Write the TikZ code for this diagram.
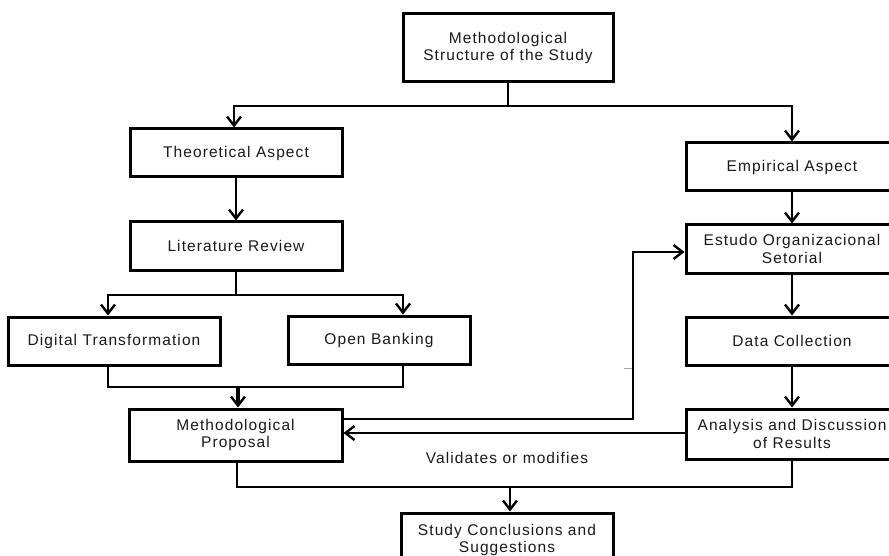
\documentclass[tikz,border=0pt]{standalone}
\usepackage{fontspec}
\setmainfont[LetterSpace=7]{Liberation Sans}
\usetikzlibrary{arrows.meta}
\begin{document}
\begin{tikzpicture}[x=1pt,y=-1pt,
  box/.style={draw=black,line width=3pt,minimum width=#1,inner sep=0pt,align=center,font=\fontsize{15.5}{17.5}\selectfont,text=black!90},
  box/.default=212,
  conn/.style={draw=black,line width=2.6pt},
  arr/.style={conn,-{Straight Barb[length=9,width=14,line width=2.4pt]}}]
\useasboundingbox (0,0) rectangle (889,556);
% nodes
\node[box=210,minimum height=68] (top) at (508,48) {Methodological\\Structure of the Study};
\node[box,minimum height=48] (theo) at (236,153) {Theoretical Aspect};
\node[box,minimum height=48] (lit) at (236,246) {Literature Review};
\node[box,minimum height=48] (dt) at (114,341) {Digital Transformation};
\node[box=182,minimum height=48] (ob) at (379,340) {Open Banking};
\node[box=213,minimum height=52] (mp) at (235.5,435) {Methodological\\Proposal};
\node[box,minimum height=48] (emp) at (792,167) {Empirical Aspect};
\node[box,minimum height=48] (est) at (792,249) {Estudo Organizacional\\Setorial};
\node[box,minimum height=48] (dc) at (792,341) {Data Collection};
\node[box,minimum height=50] (an) at (792,434) {Analysis and Discussion\\of Results};
\node[box,minimum height=54] (sc) at (507,540) {Study Conclusions and\\Suggestions};
\node[font=\fontsize{15.5}{17.5}\selectfont,text=black!90] (val) at (507,458) {Validates or modifies};
% junction coordinates
\coordinate (j1) at (508,106);
\coordinate (j2) at (236,295);
\coordinate (j3) at (238,387);
\coordinate (j4) at (510,487);
\coordinate (r1) at (633,252);
% connectors
\draw[conn] (top.south) -- (j1);
\draw[arr] (j1) -| ([xshift=-2]theo.north);
\draw[arr] (j1) -| (emp.north);
\draw[arr] (theo.south) -- (lit.north);
\draw[conn] (lit.south) -- (j2);
\draw[arr] (j2) -| ([xshift=-6]dt.north);
\draw[arr] (j2) -| ([xshift=24]ob.north);
\draw[conn] ([xshift=-6]dt.south) |- (j3) -| ([xshift=24]ob.south);
\draw[arr,line width=4pt] (j3) -- ([xshift=2.5]mp.north);
\draw[arr] (mp.east |- 0,419) -| (r1) -- (est.west |- r1);
\draw[arr] (an.west |- 0,433) -- (mp.east |- 0,433);
\draw[arr] (emp.south) -- (est.north);
\draw[arr] (est.south) -- (dc.north);
\draw[arr] (dc.south) -- (an.north);
\draw[conn] ([xshift=1.5]mp.south) |- (j4) -| (an.south);
\draw[arr] (j4) -- ([xshift=3]sc.north);
% stray tick
\draw[black!35,line width=0.6pt] (624,368) -- (632,368);
\end{tikzpicture}
\end{document}
